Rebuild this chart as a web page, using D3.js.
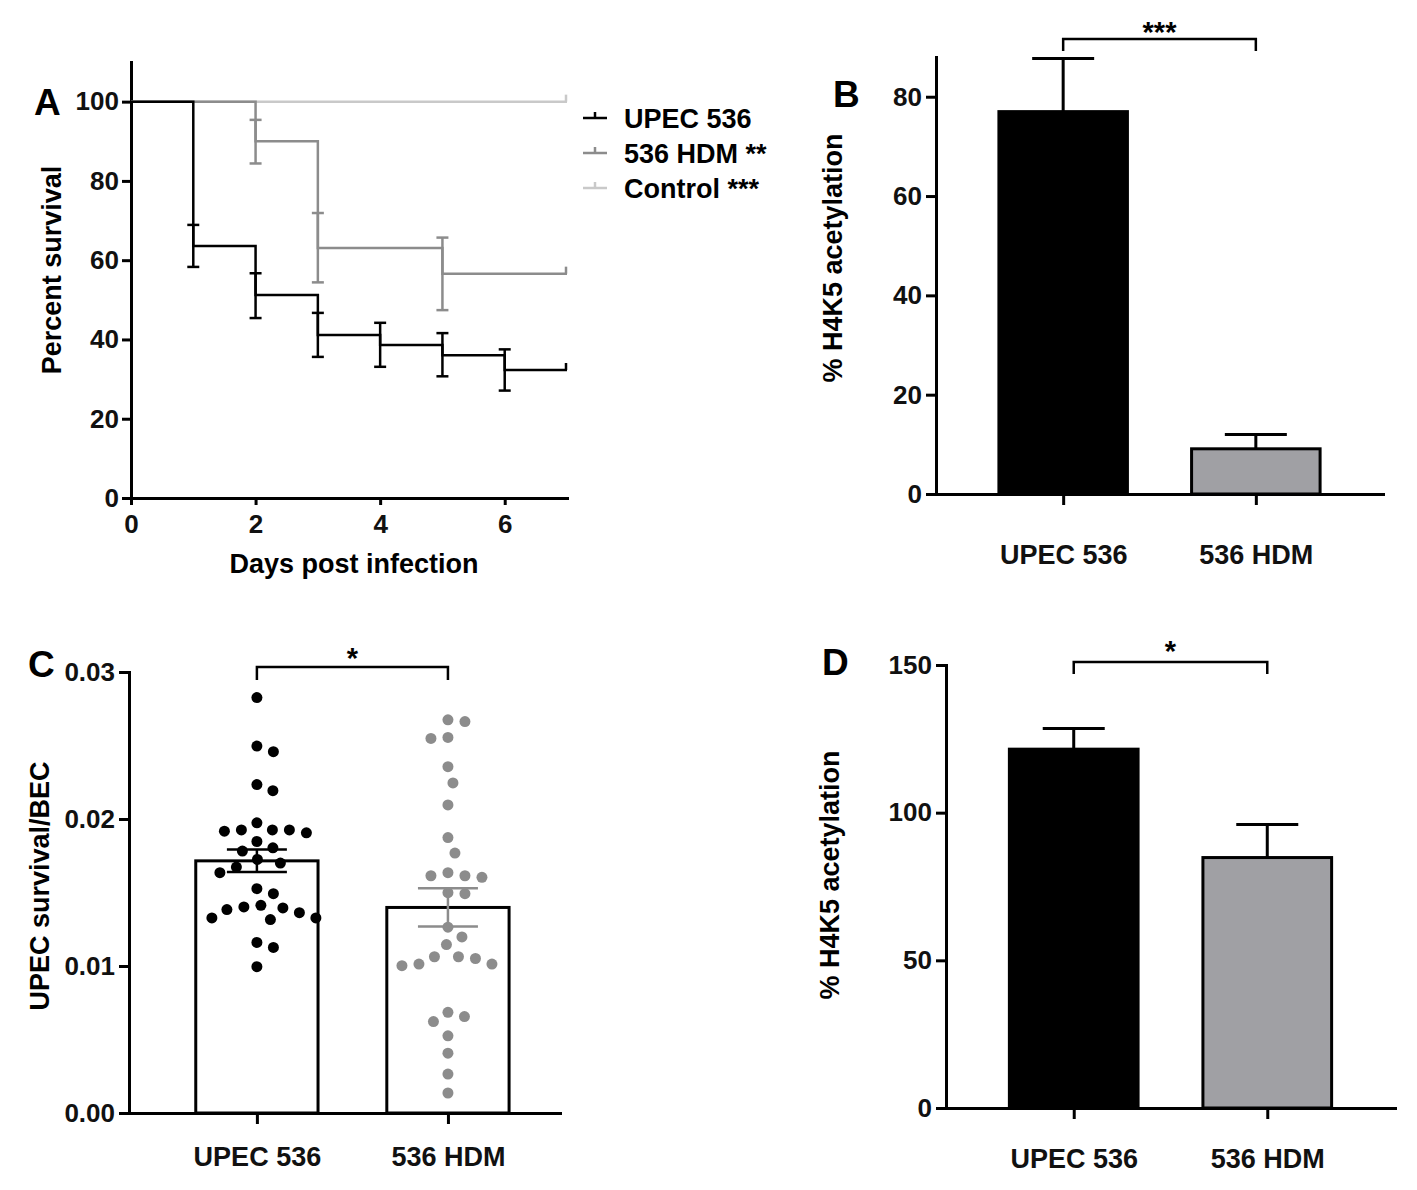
<!DOCTYPE html>
<html>
<head>
<meta charset="utf-8">
<script src="https://cdn.jsdelivr.net/npm/d3@7"></script>
<style>
  body { margin: 0; background: #fff; }
  svg text { font-family: "Liberation Sans", Arial, sans-serif; font-weight: bold; }
</style>
</head>
<body>
<div id="chart"></div>
<script>
// ---- data ----
var groups = ["UPEC 536", "536 HDM"];

// A: Kaplan-Meier survival
var upecDays = [0, 1, 2, 3, 4, 5, 6, 7];
var upecSurv = [100, 63.6, 51.2, 41.1, 38.6, 36.0, 32.3, 32.3];
var upecHi   = [null, 68.9, 56.7, 46.7, 44.2, 41.6, 37.5, null];
var upecLo   = [null, 58.3, 45.4, 35.6, 33.1, 30.7, 27.1, null];
var hdmDays  = [0, 2, 3, 5, 7];
var hdmSurv  = [100, 90.0, 63.1, 56.6, 56.6];
var hdmHi    = [null, 95.4, 71.9, 65.7, null];
var hdmLo    = [null, 84.4, 54.4, 47.4, null];
var ctrlDays = [0, 7];
var ctrlSurv = [100, 100];
var survTicksX = [0, 2, 4, 6];
var survTicksY = [0, 20, 40, 60, 80, 100];
var legendLabels = ["UPEC 536", "536 HDM **", "Control ***"];

// B: % H4K5 acetylation (mean, SEM)
var acetB    = [77.0, 9.1];
var acetBsem = [10.7, 2.9];
var ticksB   = [0, 20, 40, 60, 80];

// C: UPEC survival/BEC, individual values
var survUpec = [0.02826, 0.02496, 0.02458, 0.02234, 0.02193, 0.01974, 0.01926, 0.01926,
                0.01906, 0.01926, 0.01917, 0.01847, 0.01782, 0.01804, 0.01725, 0.01700,
                0.01673, 0.01635, 0.01526, 0.01492, 0.01402, 0.01395, 0.01413, 0.01384,
                0.01363, 0.01327, 0.01316, 0.01327, 0.01160, 0.01126, 0.00995];
var survHdm  = [0.02663, 0.02675, 0.02548, 0.02555, 0.02356, 0.02245, 0.02096, 0.01874,
                0.01768, 0.01614, 0.01614, 0.01635, 0.01603, 0.01499, 0.01492, 0.01264,
                0.01198, 0.01146, 0.01063, 0.01063, 0.01051, 0.01013, 0.01013, 0.01002,
                0.00685, 0.00656, 0.00622, 0.00525, 0.00407, 0.00265, 0.00136];
var ticksC   = [0, 0.01, 0.02, 0.03];

// D: % H4K5 acetylation (mean, SEM)
var acetD    = [121.5, 84.8];
var acetDsem = [7.0, 11.2];
var ticksD   = [0, 50, 100, 150];

var black = "#000", grey = "#8c8c8c", light = "#c9c9c9", barGrey = "#a0a0a4";

var svg = d3.select("#chart").append("svg")
    .attr("width", 1417)
    .attr("height", 1190);

function styleAxis(g, size) {
  g.attr("font-family", null).attr("font-size", size);
  g.select(".domain").attr("stroke-width", 3).attr("stroke-linecap", "square");
  g.selectAll(".tick line").attr("stroke-width", 3);
  g.selectAll(".tick text").attr("fill", "#111");
}

function panelLetter(txt, x, y) {
  svg.append("text").attr("x", x).attr("y", y).attr("font-size", 37).text(txt);
}

function yTitle(txt, x, y) {
  svg.append("text")
      .attr("transform", "translate(" + x + "," + y + ") rotate(-90)")
      .attr("text-anchor", "middle")
      .attr("dy", "0.35em")
      .attr("font-size", 27)
      .text(txt);
}

function bracket(x1, x2, yb, drop, stars, starBase) {
  svg.append("path")
      .attr("d", "M" + x1 + "," + (yb + drop) + "V" + yb + "H" + x2 + "V" + (yb + drop))
      .attr("fill", "none")
      .attr("stroke", black)
      .attr("stroke-width", 2.5);
  svg.append("text")
      .attr("x", (x1 + x2) / 2)
      .attr("y", starBase)
      .attr("text-anchor", "middle")
      .attr("font-size", 29)
      .text(stars);
}

// ---------------- A ----------------
var xA = d3.scaleLinear().domain([0, 7]).range([131, 567]);
var yA = d3.scaleLinear().domain([0, 110]).range([498, 62]);

svg.append("g")
    .attr("transform", "translate(0,498)")
    .call(d3.axisBottom(xA).tickValues(survTicksX).tickFormat(d3.format("d"))
          .tickSize(7).tickPadding(10).tickSizeOuter(0))
    .call(styleAxis, 26);

svg.append("g")
    .attr("transform", "translate(131,0)")
    .call(d3.axisLeft(yA).tickValues(survTicksY).tickSize(9).tickPadding(3).tickSizeOuter(0))
    .call(styleAxis, 26);

var survSeries = [
  {days: ctrlDays, surv: ctrlSurv, hi: [], lo: [], color: light},
  {days: hdmDays, surv: hdmSurv, hi: hdmHi, lo: hdmLo, color: grey},
  {days: upecDays, surv: upecSurv, hi: upecHi, lo: upecLo, color: black}
];

var step = d3.line()
    .x(function(d) { return xA(d[0]); })
    .y(function(d) { return yA(d[1]); })
    .curve(d3.curveStepAfter);

survSeries.forEach(function(s) {
  var g = svg.append("g").attr("stroke", s.color).attr("stroke-width", 2.5).attr("fill", "none");
  g.append("path").attr("d", step(d3.zip(s.days, s.surv)));

  s.days.forEach(function(d, i) {
    if (s.hi[i] == null) return;
    var x = xA(d);
    g.append("line").attr("x1", x).attr("x2", x).attr("y1", yA(s.lo[i])).attr("y2", yA(s.hi[i]));
    g.append("line").attr("x1", x - 6).attr("x2", x + 6).attr("y1", yA(s.hi[i])).attr("y2", yA(s.hi[i]));
    g.append("line").attr("x1", x - 6).attr("x2", x + 6).attr("y1", yA(s.lo[i])).attr("y2", yA(s.lo[i]));
  });

  // censor tick at end of follow-up
  var last = s.days.length - 1;
  g.append("line")
      .attr("x1", xA(s.days[last]) - 1).attr("x2", xA(s.days[last]) - 1)
      .attr("y1", yA(s.surv[last])).attr("y2", yA(s.surv[last]) - 7);
});

var legend = svg.append("g")
  .selectAll("g")
  .data(legendLabels)
  .enter().append("g")
    .attr("transform", function(d, i) { return "translate(583," + (118 + i * 35) + ")"; });

legend.append("path")
    .attr("d", "M0,0H24M12,0V-6")
    .attr("fill", "none")
    .attr("stroke-width", 2.5)
    .attr("stroke", function(d, i) { return [black, grey, light][i]; });

legend.append("text")
    .attr("x", 41)
    .attr("dy", "0.36em")
    .attr("font-size", 27)
    .text(function(d) { return d; });

yTitle("Percent survival", 52, 270);
svg.append("text")
    .attr("x", 354).attr("y", 573)
    .attr("text-anchor", "middle")
    .attr("font-size", 27)
    .text("Days post infection");
panelLetter("A", 34, 115);

// ---------------- bar panels ----------------
function barAxes(x, y, o) {
  svg.append("g")
      .attr("transform", "translate(0," + o.bottom + ")")
      .call(d3.axisBottom(x).tickSize(11).tickPadding(o.labelPad).tickSizeOuter(0))
      .call(styleAxis, 27);
  svg.append("g")
      .attr("transform", "translate(" + o.left + ",0)")
      .call(d3.axisLeft(y).tickValues(o.ticks).tickSize(10).tickPadding(4).tickSizeOuter(0)
            .tickFormat(o.format || d3.format("d")))
      .call(styleAxis, 26);
}

function meanBarPanel(o) {
  var x = d3.scalePoint().domain(groups).range([o.left, o.left + o.width]).padding(o.pad).align(o.align);
  var y = d3.scaleLinear().domain([0, o.max]).range([o.bottom, o.top]);
  var bw = x.step() * o.barFrac;

  var g = svg.append("g");
  // error bars (upper only)
  g.selectAll(".err")
    .data(groups)
    .enter().append("path")
      .attr("d", function(d, i) {
        var cx = x(d), yt = y(o.mean[i] + o.sem[i]);
        return "M" + cx + "," + y(o.mean[i]) + "V" + yt + "M" + (cx - 31) + "," + yt + "H" + (cx + 31);
      })
      .attr("fill", "none")
      .attr("stroke", black)
      .attr("stroke-width", 3);

  g.selectAll("rect")
    .data(groups)
    .enter().append("rect")
      .attr("x", function(d) { return x(d) - bw / 2; })
      .attr("y", function(d, i) { return y(o.mean[i]); })
      .attr("width", bw)
      .attr("height", function(d, i) { return o.bottom - y(o.mean[i]); })
      .attr("fill", function(d, i) { return i ? barGrey : black; })
      .attr("stroke", black)
      .attr("stroke-width", 3);

  barAxes(x, y, o);
  bracket(x(groups[0]), x(groups[1]), o.brY, o.brDrop, o.stars, o.starBase);
  yTitle(o.title, o.titleX, o.titleY);
  panelLetter(o.letter, o.letterX, o.letterY);
}

meanBarPanel({
  left: 936, width: 447, top: 57, bottom: 494, max: 88, ticks: ticksB,
  pad: 0.66, align: 0.5, barFrac: 0.667, labelPad: 40,
  mean: acetB, sem: acetBsem,
  brY: 39, brDrop: 12, stars: "***", starBase: 42,
  title: "% H4K5 acetylation", titleX: 833, titleY: 258,
  letter: "B", letterX: 833, letterY: 107
});

meanBarPanel({
  left: 946, width: 449, top: 665, bottom: 1108, max: 150, ticks: ticksD,
  pad: 0.66, align: 0.5, barFrac: 0.665, labelPad: 30,
  mean: acetD, sem: acetDsem,
  brY: 662, brDrop: 12, stars: "*", starBase: 661,
  title: "% H4K5 acetylation", titleX: 830, titleY: 875,
  letter: "D", letterX: 822, letterY: 675
});

// ---------------- C: scatter with mean ± SEM ----------------
var xC = d3.scalePoint().domain(groups).range([129, 560]).padding(0.628).align(0.533);
var yC = d3.scaleLinear().domain([0, 0.03]).range([1113, 672]);
var bwC = xC.step() * 0.64;
var cSets = [survUpec, survHdm];

var gC = svg.append("g");
gC.selectAll("rect")
  .data(groups)
  .enter().append("rect")
    .attr("x", function(d) { return xC(d) - bwC / 2; })
    .attr("y", function(d, i) { return yC(d3.mean(cSets[i])); })
    .attr("width", bwC)
    .attr("height", function(d, i) { return 1113 - yC(d3.mean(cSets[i])); })
    .attr("fill", "#fff")
    .attr("stroke", black)
    .attr("stroke-width", 3);

// simple beeswarm: each point goes to the closest free spot to the centre line
function swarm(values, cx, r) {
  var placed = [];
  values.slice().sort(d3.descending).forEach(function(v) {
    var py = yC(v), dx = 0;
    for (var k = 0; k < 400; k++) {
      dx = (k % 2 ? 1 : -1) * Math.ceil(k / 2) * 0.5;
      var ok = placed.every(function(p) {
        return (dx - p.dx) * (dx - p.dx) + (py - p.y) * (py - p.y) >= r * r;
      });
      if (ok) break;
    }
    placed.push({dx: dx, y: py, x: cx + dx});
  });
  return placed;
}

groups.forEach(function(gname, i) {
  gC.append("g")
    .selectAll("circle")
    .data(swarm(cSets[i], xC(gname), 17))
    .enter().append("circle")
      .attr("cx", function(d) { return d.x; })
      .attr("cy", function(d) { return d.y; })
      .attr("r", 5.5)
      .attr("fill", i ? grey : black);
});

// mean ± SEM bars
groups.forEach(function(gname, i) {
  var m = d3.mean(cSets[i]);
  var se = d3.deviation(cSets[i]) / Math.sqrt(cSets[i].length);
  var cx = xC(gname), yh = yC(m + se), yl = yC(m - se);
  gC.append("path")
      .attr("d", "M" + cx + "," + yh + "V" + yl +
                 "M" + (cx - 30) + "," + yh + "H" + (cx + 30) +
                 "M" + (cx - 30) + "," + yl + "H" + (cx + 30))
      .attr("fill", "none")
      .attr("stroke", i ? grey : black)
      .attr("stroke-width", 2.5);
});

barAxes(xC, yC, {bottom: 1113, left: 129, ticks: ticksC, labelPad: 23, format: d3.format(".2f")});
bracket(xC(groups[0]), xC(groups[1]), 667, 13, "*", 668);
yTitle("UPEC survival/BEC", 40, 886);
panelLetter("C", 28, 677);
</script>
</body>
</html>
